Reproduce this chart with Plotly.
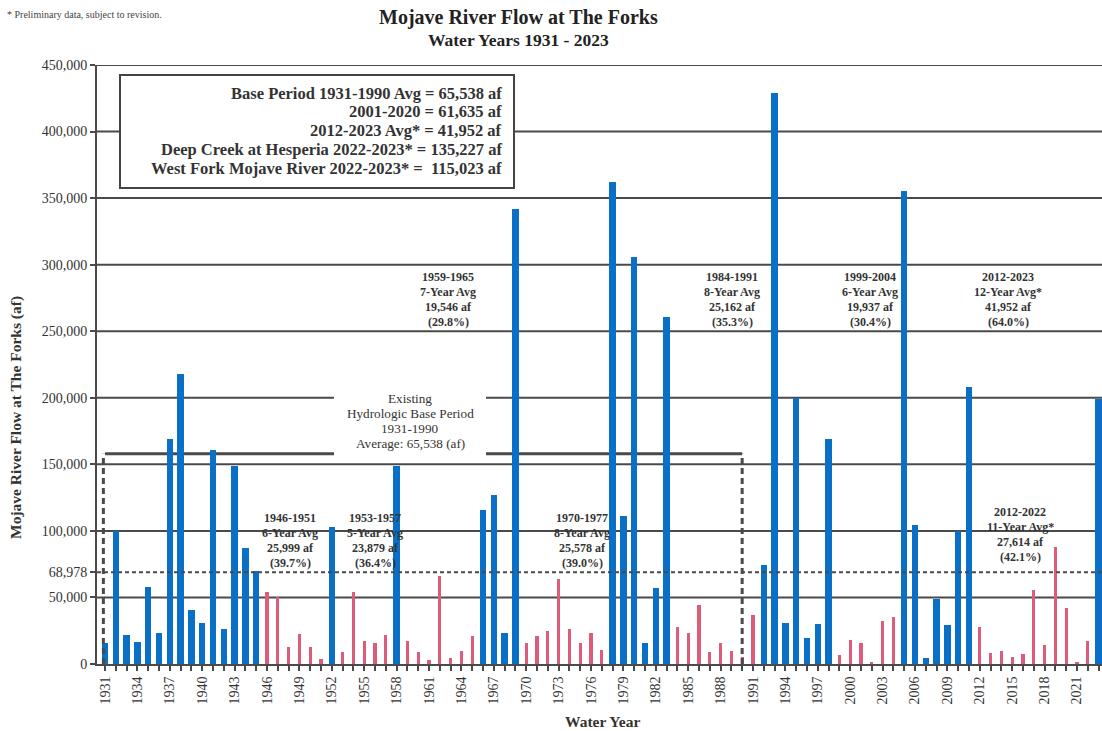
import plotly.graph_objects as go

# ---------------- data ----------------
years = [1931, 1932, 1933, 1934, 1935, 1936, 1937, 1938, 1939, 1940,
         1941, 1942, 1943, 1944, 1945, 1946, 1947, 1948, 1949, 1950,
         1951, 1952, 1953, 1954, 1955, 1956, 1957, 1958, 1959, 1960,
         1961, 1962, 1963, 1964, 1965, 1966, 1967, 1968, 1969, 1970,
         1971, 1972, 1973, 1974, 1975, 1976, 1977, 1978, 1979, 1980,
         1981, 1982, 1983, 1984, 1985, 1986, 1987, 1988, 1989, 1990,
         1991, 1992, 1993, 1994, 1995, 1996, 1997, 1998, 1999, 2000,
         2001, 2002, 2003, 2004, 2005, 2006, 2007, 2008, 2009, 2010,
         2011, 2012, 2013, 2014, 2015, 2016, 2017, 2018, 2019, 2020,
         2021, 2022, 2023]

flow_af = [16000, 100000, 22000, 16500, 57500, 23500, 169000, 218000, 40500, 31000,
           161000, 26000, 149000, 87000, 70000, 54000, 50000, 13000, 22500, 13000,
           4000, 103000, 9000, 54000, 17500, 16000, 21500, 149000, 17500, 9000,
           3000, 66000, 4500, 10000, 21000, 116000, 127000, 23500, 342000, 15500,
           21000, 24500, 64000, 26000, 15500, 23500, 10500, 362000, 111500, 306000,
           15500, 57000, 261000, 28000, 23000, 44000, 9000, 16000, 10000, 5000,
           37000, 74500, 429000, 30500, 200000, 19500, 30000, 169000, 7000, 18000,
           16000, 1500, 32000, 35000, 355000, 104500, 4500, 48500, 29000, 100000,
           208000, 27500, 8000, 9500, 5500, 7500, 55500, 14500, 88000, 42000,
           1000, 17500, 199000]

# dry-period years (drawn as thin red bars)
dry_years = [1946, 1947, 1948, 1949, 1950, 1951,
             1953, 1954, 1955, 1956, 1957,
             1959, 1960, 1961, 1962, 1963, 1964, 1965,
             1970, 1971, 1972, 1973, 1974, 1975, 1976, 1977,
             1984, 1985, 1986, 1987, 1988, 1989, 1990, 1991,
             1999, 2000, 2001, 2002, 2003, 2004,
             2012, 2013, 2014, 2015, 2016, 2017, 2018, 2019, 2020, 2021, 2022]

x_tick_labels = ["1931", "1934", "1937", "1940", "1943", "1946", "1949", "1952",
                 "1955", "1958", "1961", "1964", "1967", "1970", "1973", "1976",
                 "1979", "1982", "1985", "1988", "1991", "1994", "1997", "2000",
                 "2003", "2006", "2009", "2012", "2015", "2018", "2021"]

y_tick_vals = [0, 50000, 68978, 100000, 150000, 200000, 250000, 300000, 350000, 400000, 450000]
y_tick_text = ["0", "50,000", "68,978", "100,000", "150,000", "200,000", "250,000",
               "300,000", "350,000", "400,000", "450,000"]
grid_vals = [50000, 100000, 150000, 200000, 250000, 300000, 350000, 400000, 450000]

ref_line_af = 68978          # dashed reference line
base_bracket_af = 158000     # height of the base-period bracket
base_start, base_end = 1931, 1990

summary_lines = [
    "Base Period 1931-1990 Avg = 65,538 af",
    "2001-2020 = 61,635 af",
    "2012-2023 Avg* = 41,952 af",
    "Deep Creek at Hesperia 2022-2023* = 135,227 af",
    "West Fork Mojave River 2022-2023* =  115,023 af",
]

base_label_lines = ["Existing", "Hydrologic Base Period", "1931-1990", "Average: 65,538 (af)"]

period_notes = [
    # (text lines, centre x px, first-line y px)
    (["1946-1951", "6-Year Avg", "25,999 af", "(39.7%)"], 290, 518),
    (["1953-1957", "5-Year Avg", "23,879 af", "(36.4%)"], 375, 518),
    (["1970-1977", "8-Year Avg", "25,578 af", "(39.0%)"], 582, 518),
    (["2012-2022", "11-Year Avg*", "27,614 af", "(42.1%)"], 1020, 512),
    (["1959-1965", "7-Year Avg", "19,546 af", "(29.8%)"], 448, 277),
    (["1984-1991", "8-Year Avg", "25,162 af", "(35.3%)"], 732, 277),
    (["1999-2004", "6-Year Avg", "19,937 af", "(30.4%)"], 870, 277),
    (["2012-2023", "12-Year Avg*", "41,952 af", "(64.0%)"], 1008, 277),
]

# ---------------- styling ----------------
BLUE = "#0A6FC6"
RED = "#DC5C7A"
GRID = "#4a4a4a"
TXT = "#333333"
SERIF = "Liberation Serif, Times New Roman, serif"

W, H = 1102, 731
L, T, B = 97, 65, 67
PW, PH = W - L, H - T - B


def px_x(page_x):
    return (page_x - L) / PW


def px_y(page_y):
    return (H - B - page_y) / PH


wet_x = [y for y in years if y not in dry_years]
wet_y = [v for y, v in zip(years, flow_af) if y not in dry_years]
dry_x = [y for y in years if y in dry_years]
dry_y = [v for y, v in zip(years, flow_af) if y in dry_years]

fig = go.Figure()
fig.add_trace(go.Bar(x=wet_x, y=wet_y, width=0.6, marker=dict(color=BLUE, line=dict(width=0)),
                     name="Flow", showlegend=False))
fig.add_trace(go.Bar(x=dry_x, y=dry_y, width=0.3, marker=dict(color=RED, line=dict(width=0)),
                     name="Dry period", showlegend=False))

shapes = []
for g in grid_vals:
    shapes.append(dict(type="line", xref="paper", x0=0, x1=1, yref="y", y0=g, y1=g,
                       line=dict(color=GRID, width=2), layer="below"))
shapes.append(dict(type="line", xref="paper", x0=0, x1=1, yref="y", y0=ref_line_af, y1=ref_line_af,
                   line=dict(color=GRID, width=2, dash="4px,3px"), layer="above"))
shapes.append(dict(type="line", xref="x", x0=base_start, x1=base_end, yref="y",
                   y0=base_bracket_af, y1=base_bracket_af,
                   line=dict(color=GRID, width=3), layer="below"))
for bx in (base_start - 0.15, base_end):
    shapes.append(dict(type="line", xref="x", x0=bx, x1=bx, yref="y", y0=0, y1=base_bracket_af,
                       line=dict(color=GRID, width=3, dash="6px,4px"), layer="above"))
# summary box
shapes.append(dict(type="rect", xref="paper", yref="paper",
                   x0=px_x(120), x1=px_x(514), y0=px_y(188), y1=px_y(75),
                   fillcolor="white", line=dict(color="#444", width=2), layer="above"))
# white patch behind the base-period label (breaks grid + bracket lines)
shapes.append(dict(type="rect", xref="paper", yref="paper",
                   x0=px_x(334), x1=px_x(486), y0=px_y(458), y1=px_y(388),
                   fillcolor="white", line=dict(width=0), layer="above"))

annotations = []


def add_text(text, x, y, size, bold=False, xanchor="center", color=TXT, **kw):
    annotations.append(dict(
        text=("<b>%s</b>" % text) if bold else text,
        xref="paper", yref="paper", x=px_x(x), y=px_y(y),
        xanchor=xanchor, yanchor="middle", showarrow=False,
        font=dict(family=SERIF, size=size, color=color), **kw))


for i, s in enumerate(summary_lines):
    add_text(s, 504, 93 + i * 18.8, 16.5, bold=True, xanchor="right")

for i, s in enumerate(base_label_lines):
    add_text(s, 410, 398 + i * 15.3, 13.2)

for lines, cx, y0 in period_notes:
    for i, s in enumerate(lines):
        add_text(s, cx, y0 + i * 15, 12, bold=True)

add_text("Mojave River Flow at The Forks", 518, 17, 20, bold=True, color="#222")
add_text("Water Years 1931 - 2023", 518, 40, 17.5, bold=True, color="#222")
add_text("* Preliminary data, subject to revision.", 5, 15, 10, xanchor="left", color="#444")
add_text("Mojave River Flow at The Forks (af)", 16, 418, 15.5, bold=True, textangle=-90)
add_text("Water Year", 602, 721, 15.5, bold=True)

fig.update_layout(
    width=W, height=H,
    margin=dict(l=L, r=0, t=T, b=B, pad=0),
    paper_bgcolor="white", plot_bgcolor="white",
    barmode="overlay", bargap=0,
    shapes=shapes, annotations=annotations,
    font=dict(family=SERIF, color=TXT),
    xaxis=dict(range=[1930.26, 2023.32], tickmode="array", tickvals=years,
               ticktext=[str(y) if str(y) in x_tick_labels else "" for y in years],
               tickangle=-90, ticks="outside", ticklen=5, tickwidth=1.5, tickcolor=GRID,
               showline=True, linecolor=GRID, linewidth=2, showgrid=False, zeroline=False,
               tickfont=dict(family=SERIF, size=14, color=TXT)),
    yaxis=dict(range=[0, 450000], tickmode="array", tickvals=y_tick_vals, ticktext=y_tick_text,
               ticks="outside", ticklen=5, tickwidth=1.5, tickcolor=GRID,
               showline=True, linecolor=GRID, linewidth=2, showgrid=False, zeroline=False,
               tickfont=dict(family=SERIF, size=14, color=TXT)),
)

fig.write_html("out.html",
               config={"displayModeBar": False},
               post_script="document.body.style.margin='0';document.body.style.overflow='hidden';")
